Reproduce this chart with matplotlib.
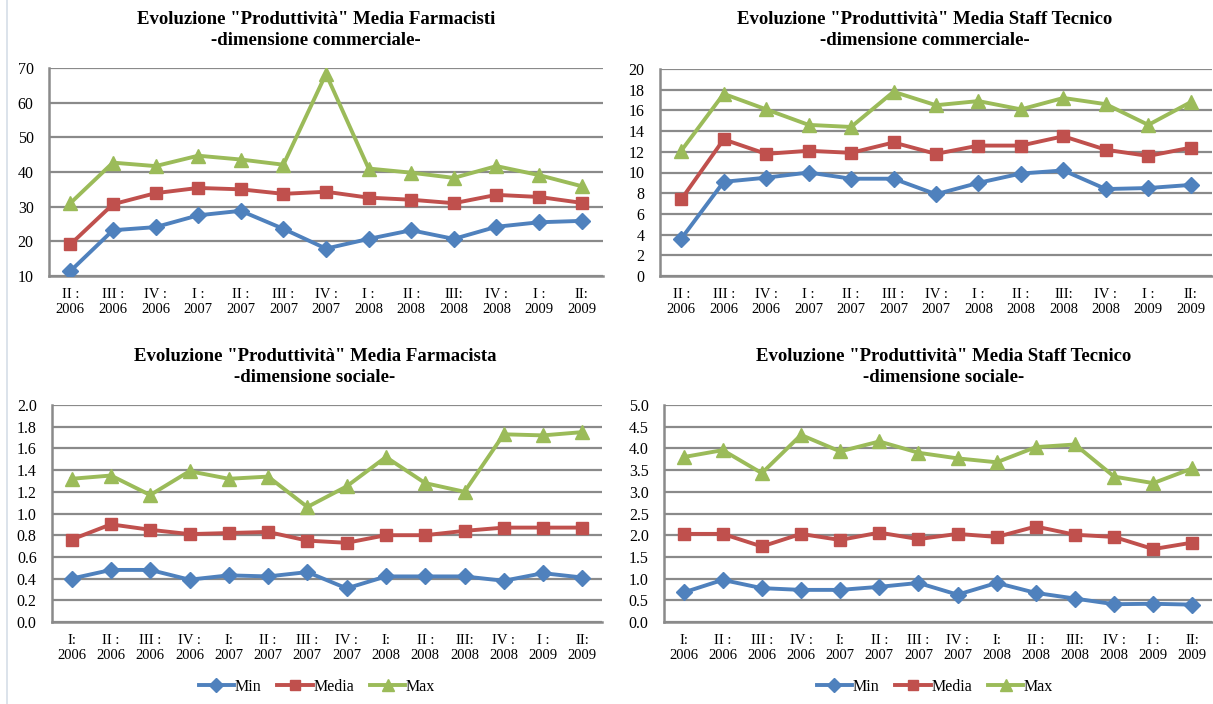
import matplotlib
matplotlib.use("Agg")
import matplotlib.pyplot as plt
from matplotlib.lines import Line2D

plt.rcParams["font.family"] = ["Liberation Serif", "DejaVu Serif"]

# trimestri
quarters_comm = ["II :\n2006", "III :\n2006", "IV :\n2006", "I :\n2007", "II :\n2007",
                 "III :\n2007", "IV :\n2007", "I :\n2008", "II :\n2008", "III:\n2008",
                 "IV :\n2008", "I :\n2009", "II:\n2009"]
quarters_soc = ["I:\n2006", "II :\n2006", "III :\n2006", "IV :\n2006", "I:\n2007",
                "II :\n2007", "III :\n2007", "IV :\n2007", "I:\n2008", "II :\n2008",
                "III:\n2008", "IV :\n2008", "I :\n2009", "II:\n2009"]

# Farmacisti - dimensione commerciale
farm_comm_min = [11.4, 23.2, 24.1, 27.5, 28.8, 23.6, 17.9, 20.7, 23.2, 20.7, 24.2, 25.5, 25.9]
farm_comm_media = [19.1, 30.7, 33.9, 35.4, 35.0, 33.7, 34.3, 32.6, 32.0, 31.0, 33.4, 32.8, 31.1]
farm_comm_max = [31.0, 42.7, 41.7, 44.7, 43.6, 42.1, 68.3, 41.0, 39.8, 38.3, 41.7, 39.1, 35.9]

# Staff tecnico - dimensione commerciale
staff_comm_min = [3.6, 9.1, 9.5, 10.0, 9.4, 9.4, 7.9, 9.0, 9.9, 10.2, 8.4, 8.5, 8.8]
staff_comm_media = [7.4, 13.2, 11.8, 12.1, 11.9, 12.9, 11.8, 12.6, 12.6, 13.5, 12.2, 11.6, 12.4]
staff_comm_max = [12.1, 17.6, 16.1, 14.6, 14.4, 17.8, 16.5, 16.9, 16.1, 17.2, 16.6, 14.6, 16.8]

# Farmacista - dimensione sociale
farm_soc_min = [0.40, 0.48, 0.48, 0.39, 0.43, 0.42, 0.46, 0.31, 0.42, 0.42, 0.42, 0.38, 0.45, 0.41]
farm_soc_media = [0.76, 0.90, 0.85, 0.81, 0.82, 0.83, 0.75, 0.73, 0.80, 0.80, 0.84, 0.87, 0.87, 0.87]
farm_soc_max = [1.32, 1.35, 1.17, 1.39, 1.32, 1.34, 1.06, 1.25, 1.52, 1.28, 1.20, 1.73, 1.72, 1.75]

# Staff tecnico - dimensione sociale
staff_soc_min = [0.68, 0.97, 0.78, 0.74, 0.74, 0.81, 0.90, 0.63, 0.90, 0.67, 0.54, 0.41, 0.42, 0.40]
staff_soc_media = [2.03, 2.03, 1.74, 2.03, 1.89, 2.06, 1.91, 2.03, 1.96, 2.20, 2.01, 1.96, 1.68, 1.83]
staff_soc_max = [3.80, 3.96, 3.43, 4.31, 3.93, 4.16, 3.90, 3.77, 3.68, 4.03, 4.09, 3.35, 3.20, 3.54]

BLU, ROSSO, VERDE = "#4F81BD", "#C0504D", "#9BBB59"
GRIGIO = "#8A8A8A"

W, H = 1213, 704
fig = plt.figure(figsize=(W / 100, H / 100), dpi=100)
fig.patch.set_facecolor("white")

# bordo pagina a sinistra
fig.add_artist(Line2D([7 / W, 7 / W], [0, 1], color="#D5DEE8", lw=1.2))


def px_axes(left, top, right, bottom):
    return fig.add_axes([left / W, 1 - bottom / H, (right - left) / W, (bottom - top) / H])


def disegna(ax, labels, mn, md, mx, ylim, yticks, fmt):
    x = range(len(labels))
    ax.plot(x, mn, color=BLU, lw=2.8, marker="D", ms=8, label="Min", zorder=3)
    ax.plot(x, md, color=ROSSO, lw=2.8, marker="s", ms=9, label="Media", zorder=3)
    ax.plot(x, mx, color=VERDE, lw=2.8, marker="^", ms=10, label="Max", zorder=3)
    ax.set_xlim(-0.5, len(labels) - 0.5)
    ax.set_ylim(*ylim)
    ax.set_yticks(yticks)
    ax.set_yticklabels([fmt.format(v) for v in yticks])
    ax.set_xticks(list(x))
    ax.set_xticklabels(labels, multialignment="center", linespacing=1.15)
    ax.grid(axis="y", color=GRIGIO, lw=1.6, zorder=0)
    ax.set_axisbelow(True)
    for s in ("top", "right"):
        ax.spines[s].set_visible(False)
    for s in ("left", "bottom"):
        ax.spines[s].set_color(GRIGIO)
        ax.spines[s].set_linewidth(1.8)
    ax.tick_params(length=0, labelsize=10.5, colors="black")
    ax.tick_params(axis="y", labelsize=11.5, pad=11)
    ax.tick_params(axis="x", pad=9)


ax1 = px_axes(49, 68, 603, 276)
disegna(ax1, quarters_comm, farm_comm_min, farm_comm_media, farm_comm_max,
        (10, 70), range(10, 71, 10), "{:d}")

ax2 = px_axes(660, 69, 1212, 276)
disegna(ax2, quarters_comm, staff_comm_min, staff_comm_media, staff_comm_max,
        (0, 20), range(0, 21, 2), "{:d}")

ax3 = px_axes(52, 405, 602, 622)
disegna(ax3, quarters_soc, farm_soc_min, farm_soc_media, farm_soc_max,
        (0, 2.0), [i * 0.2 for i in range(11)], "{:.1f}")

ax4 = px_axes(664, 405, 1212, 622)
disegna(ax4, quarters_soc, staff_soc_min, staff_soc_media, staff_soc_max,
        (0, 5.0), [i * 0.5 for i in range(11)], "{:.1f}")

titoli = [
    (316, 30, 'Evoluzione "Produttività" Media Farmacisti\n-dimensione commerciale-'),
    (925, 30, 'Evoluzione "Produttività" Media Staff Tecnico\n-dimensione commerciale-'),
    (315, 367, 'Evoluzione "Produttività" Media Farmacista\n-dimensione sociale-'),
    (944, 367, 'Evoluzione "Produttività" Media Staff Tecnico\n-dimensione sociale-'),
]
for xc, yc, t in titoli:
    fig.text(xc / W, 1 - yc / H, t, ha="center", va="center", fontsize=13.5,
             fontweight="bold", linespacing=1.3)

for ax, xc in ((ax3, 317), (ax4, 935)):
    h, l = ax.get_legend_handles_labels()
    fig.legend(h, l, loc="center", bbox_to_anchor=(xc / W, 1 - 687 / H), ncol=3,
               frameon=False, fontsize=11.5, handlelength=2.2, handletextpad=0.05,
               columnspacing=1.0, markerscale=0.85)

fig.savefig("out.png", dpi=100)
